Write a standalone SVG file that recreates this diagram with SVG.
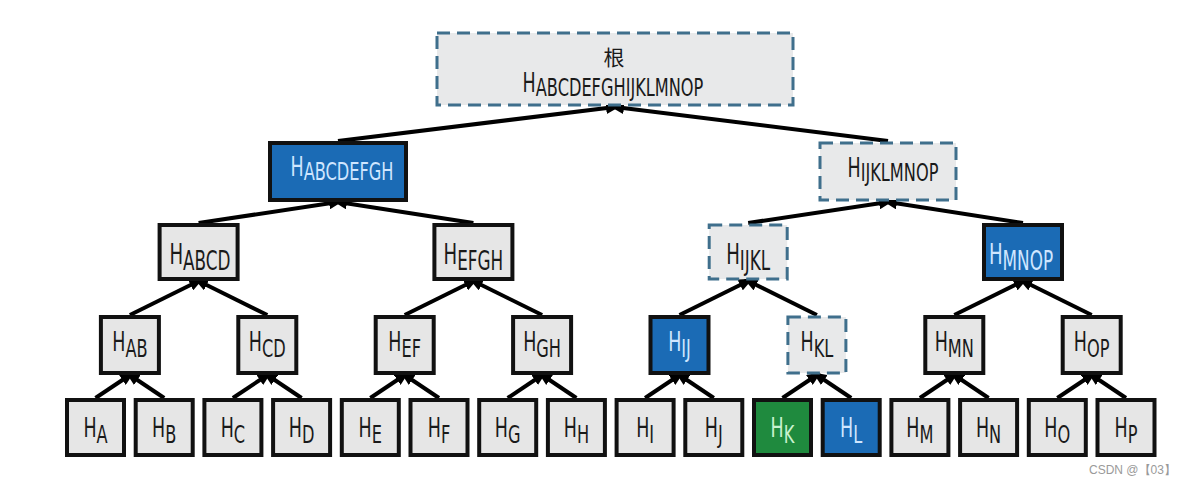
<svg xmlns="http://www.w3.org/2000/svg" width="1192" height="488" viewBox="0 0 1192 488">
<style>
.box{fill:#e6e6e6;stroke:#111;stroke-width:4}
.blue{fill:#1b6bb5;stroke:#111;stroke-width:4}
.green{fill:#1f8a3e;stroke:#111;stroke-width:4}
.dash{fill:#e8e9ea;stroke:#3f6f8c;stroke-width:3;stroke-dasharray:13 7}
.t{font-family:"DejaVu Sans Condensed","DejaVu Sans",sans-serif;font-stretch:condensed;font-size:27px;fill:#1a1a1a;text-anchor:middle}
.s{font-size:25px}
.t1{font-size:27px}
.t1 .s{font-size:25px}
.t2{font-size:28px}
.t2 .s{font-size:26px}
.tl{fill:#cfe6ff}
.tg{fill:#c9f2cf}
.cjk{font-family:"Noto Sans CJK SC",sans-serif;font-size:21px;fill:#1a1a1a;text-anchor:middle}
.e{stroke:#000;stroke-width:4;fill:none;marker-end:url(#ah)}
.wm{font-family:"Liberation Sans",sans-serif;font-size:12px;fill:#9a9a9a}
</style>
<defs>
<marker id="ah" markerUnits="userSpaceOnUse" markerWidth="14" markerHeight="12" refX="9" refY="6" orient="auto">
<path d="M0,0 L14,6 L0,12 Z" fill="#000"/>
</marker>
</defs>
<rect width="1192" height="488" fill="#fff"/>
<g id="connectors">
<line class="e" x1="95.5" y1="398" x2="129.9" y2="375"/>
<line class="e" x1="164.2" y1="398" x2="129.9" y2="375"/>
<line class="e" x1="232.9" y1="398" x2="267.3" y2="375"/>
<line class="e" x1="301.6" y1="398" x2="267.3" y2="375"/>
<line class="e" x1="370.3" y1="398" x2="404.7" y2="375"/>
<line class="e" x1="439.0" y1="398" x2="404.7" y2="375"/>
<line class="e" x1="507.7" y1="398" x2="542.1" y2="375"/>
<line class="e" x1="576.4" y1="398" x2="542.1" y2="375"/>
<line class="e" x1="645.1" y1="398" x2="679.5" y2="375"/>
<line class="e" x1="713.8" y1="398" x2="679.5" y2="375"/>
<line class="e" x1="782.5" y1="398" x2="816.9" y2="375"/>
<line class="e" x1="851.2" y1="398" x2="816.9" y2="375"/>
<line class="e" x1="919.9" y1="398" x2="954.3" y2="375"/>
<line class="e" x1="988.6" y1="398" x2="954.3" y2="375"/>
<line class="e" x1="1057.3" y1="398" x2="1091.7" y2="375"/>
<line class="e" x1="1126.0" y1="398" x2="1091.7" y2="375"/>
<line class="e" x1="129.9" y1="315" x2="198.6" y2="281"/>
<line class="e" x1="267.3" y1="315" x2="198.6" y2="281"/>
<line class="e" x1="404.7" y1="315" x2="473.4" y2="281"/>
<line class="e" x1="542.1" y1="315" x2="473.4" y2="281"/>
<line class="e" x1="679.5" y1="315" x2="748.2" y2="281"/>
<line class="e" x1="816.9" y1="315" x2="748.2" y2="281"/>
<line class="e" x1="954.3" y1="315" x2="1023" y2="281"/>
<line class="e" x1="1091.7" y1="315" x2="1023" y2="281"/>
<line class="e" x1="198.6" y1="223" x2="338" y2="202"/>
<line class="e" x1="473.4" y1="223" x2="338" y2="202"/>
<line class="e" x1="748.2" y1="223" x2="888" y2="202"/>
<line class="e" x1="1023" y1="223" x2="888" y2="202"/>
<line class="e" x1="338" y1="141" x2="615" y2="107"/>
<line class="e" x1="888" y1="141" x2="615" y2="107"/>
</g>
<g id="root">
<rect class="dash" x="437" y="33" width="356" height="72"/>
<text class="cjk" x="614" y="65">根</text>
<text class="t" x="613" y="92" transform="matrix(0.72 0 0 1 171.64 0)">H<tspan class="s" dy="4">ABCDEFGHIJKLMNOP</tspan></text>
</g>
<g id="n-abcdefgh">
<rect class="blue" x="270" y="143" width="136" height="57"/>
<text class="t t1 tl" x="342" y="176" transform="matrix(0.72 0 0 1 95.76 0)">H<tspan class="s" dy="4">ABCDEFGH</tspan></text>
</g>
<g id="n-ijklmnop">
<rect class="dash" x="820" y="143" width="136" height="57"/>
<text class="t t1" x="893" y="177" transform="matrix(0.72 0 0 1 250.04 0)">H<tspan class="s" dy="4">IJKLMNOP</tspan></text>
</g>
<g id="n-abcd">
<rect class="box" x="159.6" y="225" width="78" height="54"/>
<text class="t t2" x="200" y="264" transform="matrix(0.72 0 0 1 56 0)">H<tspan class="s" dy="6">ABCD</tspan></text>
</g>
<g id="n-efgh">
<rect class="box" x="434.4" y="225" width="78" height="54"/>
<text class="t t2" x="473.4" y="264" transform="matrix(0.72 0 0 1 132.552 0)">H<tspan class="s" dy="6">EFGH</tspan></text>
</g>
<g id="n-ijkl">
<rect class="dash" x="709.2" y="225" width="78" height="54"/>
<text class="t t2" x="748.2" y="264" transform="matrix(0.72 0 0 1 209.496 0)">H<tspan class="s" dy="6">IJKL</tspan></text>
</g>
<g id="n-mnop">
<rect class="blue" x="984" y="225" width="78" height="54"/>
<text class="t t2 tl" x="1021" y="264" transform="matrix(0.72 0 0 1 285.88 0)">H<tspan class="s" dy="6">MNOP</tspan></text>
</g>
<g id="n-ab"><rect class="box" x="100.9" y="317" width="58" height="56"/><text class="t" x="129.9" y="351" transform="matrix(0.72 0 0 1 36.372 0)">H<tspan class="s" dy="6">AB</tspan></text></g>
<g id="n-cd"><rect class="box" x="238.3" y="317" width="58" height="56"/><text class="t" x="267.3" y="351" transform="matrix(0.72 0 0 1 74.844 0)">H<tspan class="s" dy="6">CD</tspan></text></g>
<g id="n-ef"><rect class="box" x="375.7" y="317" width="58" height="56"/><text class="t" x="404.7" y="351" transform="matrix(0.72 0 0 1 113.316 0)">H<tspan class="s" dy="6">EF</tspan></text></g>
<g id="n-gh"><rect class="box" x="513.1" y="317" width="58" height="56"/><text class="t" x="542.1" y="351" transform="matrix(0.72 0 0 1 151.788 0)">H<tspan class="s" dy="6">GH</tspan></text></g>
<g id="n-ij"><rect class="blue" x="650.5" y="317" width="58" height="56"/><text class="t tl" x="679.5" y="351" transform="matrix(0.72 0 0 1 190.26 0)">H<tspan class="s" dy="6">IJ</tspan></text></g>
<g id="n-kl"><rect class="dash" x="787.9" y="317" width="58" height="56"/><text class="t" x="816.9" y="351" transform="matrix(0.72 0 0 1 228.732 0)">H<tspan class="s" dy="6">KL</tspan></text></g>
<g id="n-mn"><rect class="box" x="925.3" y="317" width="58" height="56"/><text class="t" x="954.3" y="351" transform="matrix(0.72 0 0 1 267.204 0)">H<tspan class="s" dy="6">MN</tspan></text></g>
<g id="n-op"><rect class="box" x="1062.7" y="317" width="58" height="56"/><text class="t" x="1091.7" y="351" transform="matrix(0.72 0 0 1 305.676 0)">H<tspan class="s" dy="6">OP</tspan></text></g>
<g id="n-a"><rect class="box" x="67" y="400" width="57" height="55"/><text class="t" x="95.5" y="437" transform="matrix(0.72 0 0 1 26.74 0)">H<tspan class="s" dy="6">A</tspan></text></g>
<g id="n-b"><rect class="box" x="135.7" y="400" width="57" height="55"/><text class="t" x="164.2" y="437" transform="matrix(0.72 0 0 1 45.976 0)">H<tspan class="s" dy="6">B</tspan></text></g>
<g id="n-c"><rect class="box" x="204.4" y="400" width="57" height="55"/><text class="t" x="232.9" y="437" transform="matrix(0.72 0 0 1 65.212 0)">H<tspan class="s" dy="6">C</tspan></text></g>
<g id="n-d"><rect class="box" x="273.1" y="400" width="57" height="55"/><text class="t" x="301.6" y="437" transform="matrix(0.72 0 0 1 84.448 0)">H<tspan class="s" dy="6">D</tspan></text></g>
<g id="n-e"><rect class="box" x="341.8" y="400" width="57" height="55"/><text class="t" x="370.3" y="437" transform="matrix(0.72 0 0 1 103.684 0)">H<tspan class="s" dy="6">E</tspan></text></g>
<g id="n-f"><rect class="box" x="410.5" y="400" width="57" height="55"/><text class="t" x="439.0" y="437" transform="matrix(0.72 0 0 1 122.92 0)">H<tspan class="s" dy="6">F</tspan></text></g>
<g id="n-g"><rect class="box" x="479.2" y="400" width="57" height="55"/><text class="t" x="507.7" y="437" transform="matrix(0.72 0 0 1 142.156 0)">H<tspan class="s" dy="6">G</tspan></text></g>
<g id="n-h"><rect class="box" x="547.9" y="400" width="57" height="55"/><text class="t" x="576.4" y="437" transform="matrix(0.72 0 0 1 161.392 0)">H<tspan class="s" dy="6">H</tspan></text></g>
<g id="n-i"><rect class="box" x="616.6" y="400" width="57" height="55"/><text class="t" x="645.1" y="437" transform="matrix(0.72 0 0 1 180.628 0)">H<tspan class="s" dy="6">I</tspan></text></g>
<g id="n-j"><rect class="box" x="685.3" y="400" width="57" height="55"/><text class="t" x="713.8" y="437" transform="matrix(0.72 0 0 1 199.864 0)">H<tspan class="s" dy="6">J</tspan></text></g>
<g id="n-k"><rect class="green" x="754" y="400" width="57" height="55"/><text class="t tg" x="782.5" y="437" transform="matrix(0.72 0 0 1 219.1 0)">H<tspan class="s" dy="6">K</tspan></text></g>
<g id="n-l"><rect class="blue" x="822.7" y="400" width="57" height="55"/><text class="t tl" x="851.2" y="437" transform="matrix(0.72 0 0 1 238.336 0)">H<tspan class="s" dy="6">L</tspan></text></g>
<g id="n-m"><rect class="box" x="891.4" y="400" width="57" height="55"/><text class="t" x="919.9" y="437" transform="matrix(0.72 0 0 1 257.572 0)">H<tspan class="s" dy="6">M</tspan></text></g>
<g id="n-n"><rect class="box" x="960.1" y="400" width="57" height="55"/><text class="t" x="988.6" y="437" transform="matrix(0.72 0 0 1 276.808 0)">H<tspan class="s" dy="6">N</tspan></text></g>
<g id="n-o"><rect class="box" x="1028.8" y="400" width="57" height="55"/><text class="t" x="1057.3" y="437" transform="matrix(0.72 0 0 1 296.044 0)">H<tspan class="s" dy="6">O</tspan></text></g>
<g id="n-p"><rect class="box" x="1097.5" y="400" width="57" height="55"/><text class="t" x="1126.0" y="437" transform="matrix(0.72 0 0 1 315.28 0)">H<tspan class="s" dy="6">P</tspan></text></g>
<text class="wm" x="1089" y="474">CSDN @【03】</text>
</svg>
